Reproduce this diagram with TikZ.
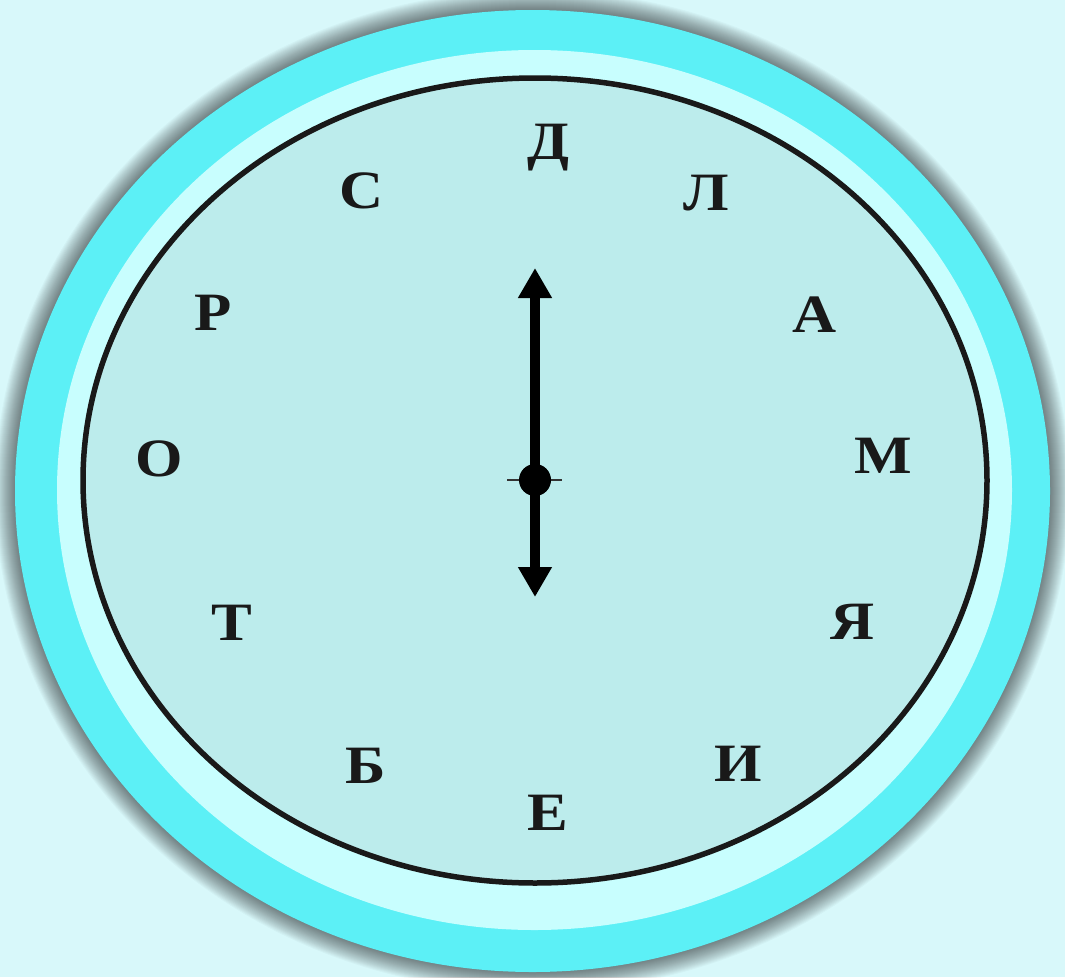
\documentclass[tikz,border=0pt]{standalone}
\usepackage{fontspec}
\setmainfont{Liberation Serif}
\usetikzlibrary{arrows.meta}
\definecolor{bgc}{RGB}{216,248,250}
\definecolor{ringc}{RGB}{92,240,246}
\definecolor{lightc}{RGB}{200,254,254}
\definecolor{facec}{RGB}{188,236,236}
\tikzset{
  letter/.style={font=\fontsize{54}{54}\selectfont\bfseries, text=black!90, inner sep=0pt, xscale=1.13},
  hand/.style={line width=10pt, black, -{Triangle[width=32pt,length=30pt]}},
}
\begin{document}
\begin{tikzpicture}[x=1pt,y=-1pt]
\fill[bgc] (0,0) rectangle (1065,977);
\useasboundingbox (0,0) rectangle (1065,977);
% soft shadow
\foreach \i in {20,19,...,0} {
  \fill[black, opacity=0.028] (532.5,491) ellipse [x radius=517.5pt+\i pt, y radius=481pt+\i pt];
}
\fill[ringc] (532.5,491) ellipse [x radius=517.5pt, y radius=481pt];
\fill[lightc] (534.5,490) ellipse [x radius=477.5pt, y radius=440pt];
\draw[line width=5.5pt, draw=black!90, fill=facec] (535,480.5) ellipse [x radius=452pt, y radius=402.5pt];
% letters
\node[letter] (d) at (548,148) {Д};
\node[letter] (l) at (706,193) {Л};
\node[letter] (a) at (815,315) {А};
\node[letter] (m) at (883,456) {М};
\node[letter] (ya) at (853,622) {Я};
\node[letter] (i) at (738,764) {И};
\node[letter] (e) at (548,813) {Е};
\node[letter] (b) at (366,766) {Б};
\node[letter] (t) at (232,623) {Т};
\node[letter] (o) at (159,459) {О};
\node[letter] (r) at (213,313) {Р};
\node[letter] (s) at (362,191) {С};
% hands
\coordinate (c) at (535,480);
\coordinate (up) at (535,268);
\coordinate (dn) at (535,597);
\coordinate (tl) at (507,480);
\coordinate (tr) at (562,480);
\draw[line width=1.2pt, black!80] (tl) -- (tr);
\draw[hand] (c) -- (up);
\draw[hand] (c) -- (dn);
\fill[black] (c) circle (16pt);
\end{tikzpicture}
\end{document}
